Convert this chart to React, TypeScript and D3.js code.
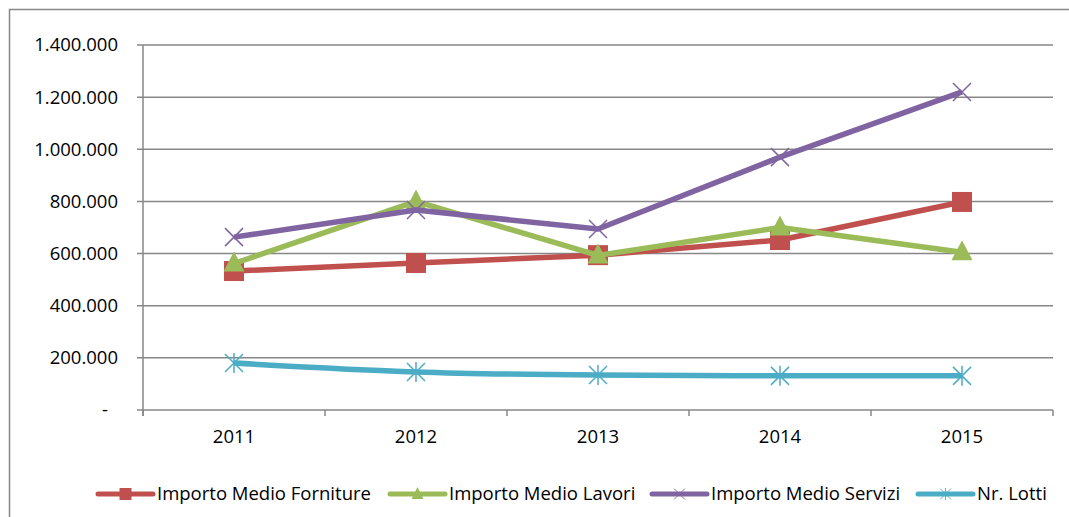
import React, { useEffect, useRef } from 'react';
import * as d3 from 'd3';

const years = ['2011', '2012', '2013', '2014', '2015'];
const forniture = [533000, 564000, 594000, 652000, 798000];
const lavori = [562000, 800000, 593000, 700000, 605000];
const servizi = [663000, 767000, 694000, 970000, 1220000];
const lotti = [180000, 146000, 134000, 131000, 131000];
const yTicks = [0, 200000, 400000, 600000, 800000, 1000000, 1200000, 1400000];

const series = [
  { name: 'Importo Medio Forniture', values: forniture, color: '#C0504D', marker: 'square', smooth: false },
  { name: 'Importo Medio Lavori', values: lavori, color: '#9BBB59', marker: 'triangle', smooth: false },
  { name: 'Importo Medio Servizi', values: servizi, color: '#8064A2', marker: 'x', smooth: false },
  { name: 'Nr. Lotti', values: lotti, color: '#4BACC6', marker: 'star', smooth: true },
];

const fmt = (v: number) => (v === 0 ? '-' : d3.format(',')(v).replace(/,/g, '.'));

const App = () => {
  const ref = useRef<SVGSVGElement>(null);

  useEffect(() => {
    const W = 1069, H = 517;
    const left = 143, right = 1053, top = 45, bottom = 410;
    const font = "'Open Sans', sans-serif";
    const fs = '18.5px';

    const svg = d3.select(ref.current);
    svg.selectAll('*').remove();

    svg.append('rect').attr('width', W).attr('height', H).attr('fill', 'white');
    // bordo del grafico
    svg.append('rect')
      .attr('x', 9.5).attr('y', 9.5)
      .attr('width', W + 10).attr('height', H + 10)
      .attr('fill', 'none').attr('stroke', '#888').attr('stroke-width', 1.5);

    const x = d3.scaleBand().domain(years).range([left, right]);
    const y = d3.scaleLinear().domain([0, 1400000]).range([bottom, top]);

    // griglia e etichette asse y
    const yg = svg.append('g');
    yTicks.forEach((t) => {
      yg.append('line')
        .attr('x1', left - 6).attr('x2', right)
        .attr('y1', y(t)).attr('y2', y(t))
        .attr('stroke', '#878787').attr('stroke-width', 1.5);
      yg.append('text')
        .attr('x', t === 0 ? 108 : 118).attr('y', y(t))
        .attr('dy', '0.35em')
        .attr('text-anchor', 'end')
        .style('font-family', font).style('font-size', fs).style('fill', '#000')
        .text(fmt(t));
    });

    // asse y verticale
    svg.append('line')
      .attr('x1', left).attr('x2', left).attr('y1', top).attr('y2', bottom + 6)
      .attr('stroke', '#878787').attr('stroke-width', 1.5);

    // tacche asse x
    const edges = years.map((d) => x(d) as number).concat([right]);
    edges.forEach((e) => {
      svg.append('line')
        .attr('x1', e).attr('x2', e).attr('y1', bottom).attr('y2', bottom + 6)
        .attr('stroke', '#878787').attr('stroke-width', 1.5);
    });
    years.forEach((yr) => {
      svg.append('text')
        .attr('x', (x(yr) as number) + x.bandwidth() / 2).attr('y', 437)
        .attr('dy', '0.35em').attr('text-anchor', 'middle')
        .style('font-family', font).style('font-size', fs)
        .text(yr);
    });

    const drawMarker = (g: any, kind: string, cx: number, cy: number, color: string) => {
      if (kind === 'square') {
        g.append('rect').attr('x', cx - 10).attr('y', cy - 10).attr('width', 20).attr('height', 20).attr('fill', color);
      } else if (kind === 'triangle') {
        g.append('path').attr('d', `M${cx},${cy - 12}L${cx + 10.5},${cy + 8}L${cx - 10.5},${cy + 8}Z`).attr('fill', color);
      } else if (kind === 'x') {
        g.append('path').attr('d', `M${cx - 9},${cy - 9}L${cx + 9},${cy + 9}M${cx - 9},${cy + 9}L${cx + 9},${cy - 9}`)
          .attr('stroke', color).attr('stroke-width', 1.5).attr('fill', 'none');
      } else {
        g.append('path').attr('d', `M${cx - 9},${cy - 9}L${cx + 9},${cy + 9}M${cx - 9},${cy + 9}L${cx + 9},${cy - 9}M${cx},${cy - 10}L${cx},${cy + 10}`)
          .attr('stroke', color).attr('stroke-width', 1.5).attr('fill', 'none');
      }
    };

    series.forEach((s) => {
      const line = d3.line<number>()
        .x((d, i) => (x(years[i]) as number) + x.bandwidth() / 2)
        .y((d) => y(d))
        .curve(s.smooth ? d3.curveMonotoneX : d3.curveLinear);
      const g = svg.append('g');
      g.append('path')
        .datum(s.values)
        .attr('d', line)
        .attr('fill', 'none')
        .attr('stroke', s.color)
        .attr('stroke-width', 5.5)
        .attr('stroke-linejoin', 'round');
      s.values.forEach((v, i) => {
        drawMarker(g, s.marker, (x(years[i]) as number) + x.bandwidth() / 2, y(v), s.color);
      });
    });

    // legenda
    const legendX = [98, 390, 652, 918];
    const ly = 494;
    series.forEach((s, i) => {
      const g = svg.append('g');
      const lx = legendX[i];
      g.append('line').attr('x1', lx).attr('x2', lx + 55).attr('y1', ly).attr('y2', ly)
        .attr('stroke', s.color).attr('stroke-width', 5).attr('stroke-linecap', 'round');
      const cx = lx + 27.5;
      if (s.marker === 'square') {
        g.append('rect').attr('x', cx - 6).attr('y', ly - 6).attr('width', 12).attr('height', 12).attr('fill', s.color);
      } else if (s.marker === 'triangle') {
        g.append('path').attr('d', `M${cx},${ly - 7}L${cx + 6},${ly + 5}L${cx - 6},${ly + 5}Z`).attr('fill', s.color);
      } else {
        drawMarker(g, s.marker, cx, ly, s.color);
        g.select('path:last-child').attr('transform', `translate(${cx},${ly}) scale(0.6) translate(${-cx},${-ly})`);
      }
      g.append('text')
        .attr('x', lx + 59).attr('y', ly).attr('dy', '0.35em')
        .style('font-family', font).style('font-size', fs)
        .text(s.name);
    });
  }, []);

  return (
    <div style={{ position: 'absolute', left: 0, top: 0 }}>
      <svg ref={ref} width={1069} height={517} style={{ display: 'block' }} />
    </div>
  );
};

export default App;
